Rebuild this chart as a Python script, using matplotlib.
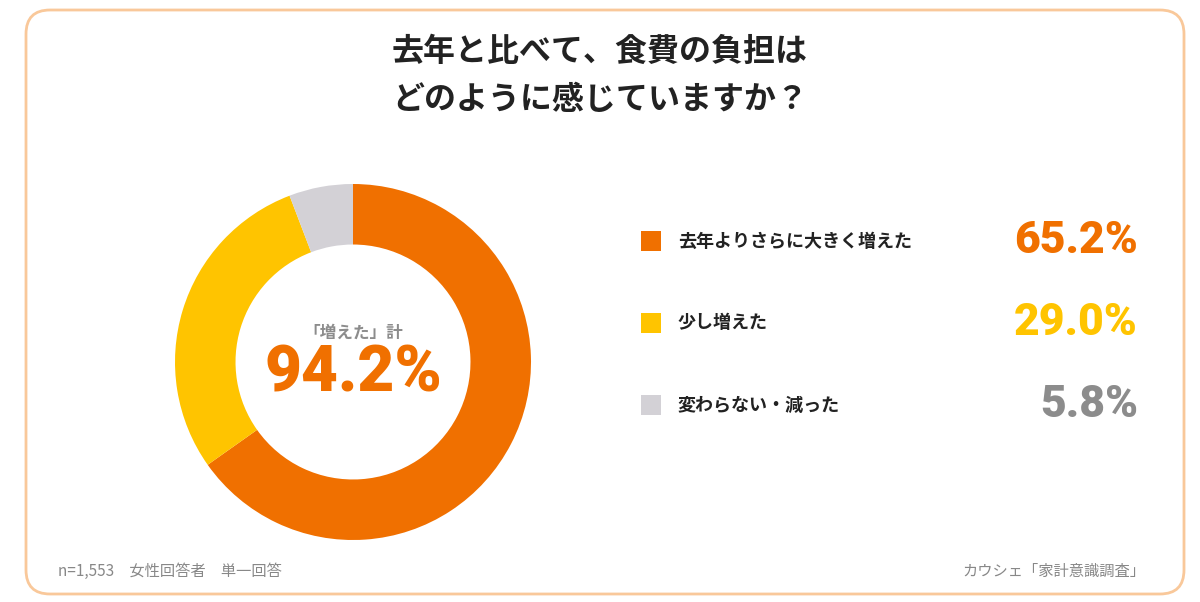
import matplotlib
matplotlib.use("Agg")
import matplotlib.pyplot as plt
from matplotlib.patches import FancyBboxPatch, Rectangle

labels = ["去年よりさらに大きく増えた", "少し増えた", "変わらない・減った"]
values = [65.2, 29.0, 5.8]
colors = ["#F07000", "#FFC400", "#D3D1D6"]
pct_colors = ["#F07000", "#FFC400", "#8C8C8C"]
total_label = "「増えた」計"
total_value = "94.2%"

plt.rcParams['font.family'] = ['Noto Sans CJK JP', 'DejaVu Sans']
W, H = 1200, 602
fig = plt.figure(figsize=(12, 6.02), dpi=100)
fig.patch.set_facecolor("white")

def fx(x): return x / W
def fy(y): return 1 - y / H

fig.patches.append(FancyBboxPatch((fx(26), fy(594)), fx(1158), (584) / H,
    boxstyle="round,pad=0,rounding_size=0.02", transform=fig.transFigure,
    facecolor="none", edgecolor="#F9C89A", linewidth=2, mutation_aspect=2, zorder=-1))

fig.text(0.5, fy(52), "去年と比べて、食費の負担は", ha="center", va="center",
         fontsize=23, fontweight="bold", color="#222222")
fig.text(0.5, fy(100), "どのように感じていますか？", ha="center", va="center",
         fontsize=23, fontweight="bold", color="#222222")

cx, cy, r = 353, 362, 178
ax = fig.add_axes([fx(cx - r), fy(cy + r), 2 * r / W, 2 * r / H])
ax.pie(values, colors=colors, startangle=90, counterclock=False,
       wedgeprops=dict(width=0.34, linewidth=0))
ax.set_aspect("equal")
ax.set_xlim(-1, 1); ax.set_ylim(-1, 1)
ax.axis("off")

fig.text(fx(cx), fy(333), total_label, ha="center", va="center",
         fontsize=12, fontweight="bold", color="#8C8C8C")
fig.text(fx(cx), fy(374), total_value, ha="center", va="center",
         fontsize=46, fontweight="heavy", color="#F07000", family=["Roboto", "DejaVu Sans"])

rows_y = [241, 323, 405]
for lab, val, c, pc, y in zip(labels, values, colors, pct_colors, rows_y):
    fig.patches.append(Rectangle((fx(641), fy(y + 10)), 20 / W, 20 / H,
        transform=fig.transFigure, facecolor=c, edgecolor="none"))
    fig.text(fx(678), fy(y), lab, ha="left", va="center", fontsize=13,
             fontweight="bold", color="#222222")
    fig.text(fx(1138), fy(y), f"{val:.1f}%", ha="right", va="center",
             fontsize=32, fontweight="heavy", color=pc, family=["Roboto", "DejaVu Sans"])

fig.text(fx(58), fy(571), "n=1,553　女性回答者　単一回答", ha="left", va="center",
         fontsize=11, color="#888888")
fig.text(fx(1145), fy(571), "カウシェ「家計意識調査」", ha="right", va="center",
         fontsize=11, color="#888888")

fig.savefig("out.png", dpi=100, facecolor="white")
